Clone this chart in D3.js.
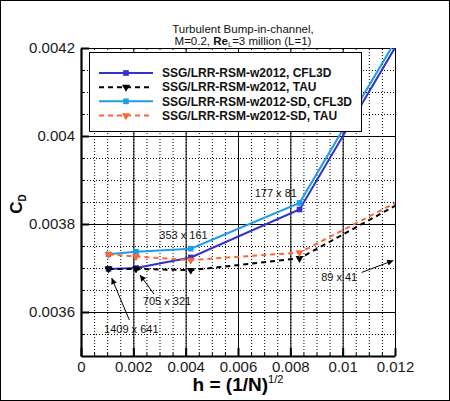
<!DOCTYPE html>
<html>
<head>
<meta charset="utf-8">
<script src="https://cdn.jsdelivr.net/npm/d3@7"></script>
<style>
  body { margin: 0; background: #fff; }
  svg { display: block; font-family: "Liberation Sans", Arial, sans-serif; }
</style>
</head>
<body>
<div id="chart"></div>
<script>
// grid spacing h = (1/N)^(1/2) for the five meshes
var hValues = [0.001052, 0.002102, 0.004195, 0.008352, 0.016555];
var gridNames = ["1409 x 641", "705 x 321", "353 x 161", "177 x 81", "89 x 41"];

// drag coefficient per series
var cdCfl3d   = [0.003698, 0.003700, 0.003724, 0.003833, 0.004660];
var cdTau     = [0.003698, 0.003698, 0.003695, 0.003722, 0.003990];
var cdSdCfl3d = [0.003731, 0.003737, 0.003744, 0.003848, 0.004672];
var cdSdTau   = [0.003731, 0.003726, 0.003718, 0.003735, 0.003988];

var seriesNames = [
  "SSG/LRR-RSM-w2012, CFL3D",
  "SSG/LRR-RSM-w2012, TAU",
  "SSG/LRR-RSM-w2012-SD, CFL3D",
  "SSG/LRR-RSM-w2012-SD, TAU"
];

var xTickValues = [0, 0.002, 0.004, 0.006, 0.008, 0.01, 0.012];
var xTickLabels = ["0", "0.002", "0.004", "0.006", "0.008", "0.01", "0.012"];
var yTickValues = [0.0036, 0.0038, 0.004, 0.0042];
var yTickLabels = ["0.0036", "0.0038", "0.004", "0.0042"];

// grid label annotations: [label index, h, Cd] and arrows [h0, cd0, h1, cd1]
var labelSpots = [
  [0, 0.001922, 0.003561],
  [1, 0.003287, 0.003625],
  [2, 0.003917, 0.003775],
  [3, 0.007445, 0.003871],
  [4, 0.009868, 0.003680]
];
var arrowSpots = [
  [0.001846, 0.003582, 0.001173, 0.003677],
  [0.002790, 0.003641, 0.002255, 0.003684],
  [0.010727, 0.003690, 0.011935, 0.003717]
];

var width = 450, height = 401,
    padL = 81, padR = 395, padT = 48, padB = 356;

var x = d3.scaleLinear().domain([0, 0.012]).range([padL, padR]);
var y = d3.scaleLinear().domain([0.0035, 0.0042]).range([padB, padT]);

var svg = d3.select("#chart").append("svg")
    .attr("width", width).attr("height", height);

svg.append("rect")
    .attr("x", 0.5).attr("y", 0.5)
    .attr("width", width - 1).attr("height", height - 1)
    .attr("fill", "#fff").attr("stroke", "#000");

// minor dotted grid
var xMinor = d3.range(0, 0.01201, 0.0005);
var yMinor = d3.range(0.0035, 0.00420001, 0.00005);

var grid = svg.append("g");
grid.append("g")
    .attr("transform", "translate(0," + padB + ")")
    .call(d3.axisBottom(x).tickValues(xMinor).tickSize(-(padB - padT)).tickFormat(""))
    .call(function (g) { g.select(".domain").remove(); })
    .selectAll("line").attr("stroke", "#000").attr("stroke-dasharray", "1,2");
grid.append("g")
    .attr("transform", "translate(" + padL + ",0)")
    .call(d3.axisLeft(y).tickValues(yMinor).tickSize(-(padR - padL)).tickFormat(""))
    .call(function (g) { g.select(".domain").remove(); })
    .selectAll("line").attr("stroke", "#000").attr("stroke-dasharray", "1,2");

// major solid grid
grid.append("g")
    .attr("transform", "translate(0," + padB + ")")
    .call(d3.axisBottom(x).tickValues(xTickValues).tickSize(-(padB - padT)).tickFormat(""))
    .call(function (g) { g.select(".domain").remove(); })
    .selectAll("line").attr("stroke", "#000");
grid.append("g")
    .attr("transform", "translate(" + padL + ",0)")
    .call(d3.axisLeft(y).tickValues(d3.range(0.0036, 0.00420001, 0.0002)).tickSize(-(padR - padL)).tickFormat(""))
    .call(function (g) { g.select(".domain").remove(); })
    .selectAll("line").attr("stroke", "#000");

// axes with inward ticks
var xAxis = svg.append("g")
    .attr("transform", "translate(0," + padB + ")")
    .call(d3.axisBottom(x).tickValues(xTickValues)
        .tickFormat(function (d, i) { return xTickLabels[i]; })
        .tickSizeInner(-8).tickSizeOuter(0).tickPadding(5));
var yAxis = svg.append("g")
    .attr("transform", "translate(" + padL + ",0)")
    .call(d3.axisLeft(y).tickValues(yTickValues)
        .tickFormat(function (d, i) { return yTickLabels[i]; })
        .tickSizeInner(-8).tickSizeOuter(0).tickPadding(6));

svg.append("g")
    .attr("transform", "translate(0," + padB + ")")
    .call(d3.axisBottom(x).tickValues(xMinor).tickSize(-3).tickFormat(""))
    .call(function (g) { g.select(".domain").remove(); })
    .selectAll("line").attr("stroke", "#000");
svg.append("g")
    .attr("transform", "translate(" + padL + ",0)")
    .call(d3.axisLeft(y).tickValues(yMinor).tickSize(-3).tickFormat(""))
    .call(function (g) { g.select(".domain").remove(); })
    .selectAll("line").attr("stroke", "#000");

[xAxis, yAxis].forEach(function (a) {
  a.select(".domain").attr("stroke", "#000").attr("stroke-width", 2.2);
  a.selectAll(".tick line").attr("stroke", "#000").attr("stroke-width", 2);
  a.selectAll(".tick text").attr("font-size", 15).attr("fill", "#1a1a1a");
});

// series
var series = [
  { name: seriesNames[0], values: cdCfl3d,   color: "#3232cc", dash: null,  marker: "square" },
  { name: seriesNames[1], values: cdTau,     color: "#000000", dash: "5,4", marker: "tri" },
  { name: seriesNames[2], values: cdSdCfl3d, color: "#1e9ee6", dash: null,  marker: "square" },
  { name: seriesNames[3], values: cdSdTau,   color: "#ff6633", dash: "5,4", marker: "tri" }
];

svg.append("clipPath").attr("id", "plotclip")
  .append("rect").attr("x", padL).attr("y", padT)
  .attr("width", padR - padL).attr("height", padB - padT);

var line = d3.line()
    .x(function (d) { return x(d[0]); })
    .y(function (d) { return y(d[1]); });

var plot = svg.append("g").attr("clip-path", "url(#plotclip)");

function markerPath(kind) {
  if (kind === "square") return d3.symbol().type(d3.symbolSquare).size(32)();
  return d3.symbol().type(d3.symbolTriangle).size(28)();
}

series.forEach(function (s) {
  var pts = hValues.map(function (h, i) { return [h, s.values[i]]; });
  plot.append("path")
      .datum(pts)
      .attr("fill", "none")
      .attr("stroke", s.color)
      .attr("stroke-width", 2)
      .attr("stroke-dasharray", s.dash)
      .attr("d", line);
  plot.selectAll(null)
      .data(pts)
      .enter().append("path")
      .attr("d", markerPath(s.marker))
      .attr("transform", function (d) {
        return "translate(" + x(d[0]) + "," + y(d[1]) + ")" + (s.marker === "tri" ? " rotate(180)" : "");
      })
      .attr("fill", s.color);
});

// annotations
svg.append("defs").append("marker")
    .attr("id", "arrowhead")
    .attr("viewBox", "0 0 10 10")
    .attr("refX", 10).attr("refY", 5)
    .attr("markerWidth", 9).attr("markerHeight", 6)
    .attr("markerUnits", "userSpaceOnUse")
    .attr("orient", "auto")
  .append("path").attr("d", "M0,0L10,5L0,10Z").attr("fill", "#000");

svg.append("g").selectAll("line")
    .data(arrowSpots)
    .enter().append("line")
    .attr("x1", function (d) { return x(d[0]); })
    .attr("y1", function (d) { return y(d[1]); })
    .attr("x2", function (d) { return x(d[2]); })
    .attr("y2", function (d) { return y(d[3]); })
    .attr("stroke", "#000").attr("stroke-width", 1)
    .attr("marker-end", "url(#arrowhead)");

svg.append("g").selectAll("text")
    .data(labelSpots)
    .enter().append("text")
    .attr("x", function (d) { return x(d[1]); })
    .attr("y", function (d) { return y(d[2]); })
    .attr("dy", "0.35em")
    .attr("text-anchor", "middle")
    .attr("font-size", 11)
    .attr("fill", "#111")
    .text(function (d) { return gridNames[d[0]]; });

// legend
var legend = svg.append("g");
legend.append("rect")
    .attr("x", 89.5).attr("y", 52.5).attr("width", 272).attr("height", 79)
    .attr("fill", "#fff").attr("stroke", "#000");
var rowY = d3.scalePoint().domain(d3.range(series.length)).range([73, 115.5]);
series.forEach(function (s, i) {
  var ly = rowY(i);
  legend.append("line")
      .attr("x1", 99).attr("x2", 153).attr("y1", ly).attr("y2", ly)
      .attr("stroke", s.color).attr("stroke-width", 2)
      .attr("stroke-dasharray", s.dash);
  legend.append("path")
      .attr("d", markerPath(s.marker))
      .attr("transform", "translate(126," + ly + ")" + (s.marker === "tri" ? " rotate(180)" : ""))
      .attr("fill", s.color);
  legend.append("text")
      .attr("x", 162).attr("y", ly).attr("dy", "0.36em")
      .attr("font-size", 12).attr("font-weight", "bold")
      .attr("fill", "#111")
      .text(s.name);
});

// title
var title = svg.append("text").attr("text-anchor", "middle").attr("font-size", 11.5).attr("fill", "#111");
title.append("tspan").attr("x", 243).attr("y", 33).text("Turbulent Bump-in-channel,");
var t2 = title.append("tspan").attr("x", 243).attr("y", 44.5);
t2.append("tspan").text("M=0.2, ");
t2.append("tspan").attr("font-weight", "bold").text("Re");
t2.append("tspan").attr("font-size", 7.5).attr("dy", 2.5).text("L");
t2.append("tspan").attr("dy", -2.5).text("=3 million (L=1)");

// axis titles
var xt = svg.append("text")
    .attr("x", 238).attr("y", 391)
    .attr("text-anchor", "middle")
    .attr("font-size", 19).attr("font-weight", "bold").attr("fill", "#000");
xt.append("tspan").text("h = (1/N)");
xt.append("tspan").attr("font-size", 11).attr("font-weight", "normal").attr("dy", -8).text("1/2");

var yt = svg.append("text")
    .attr("transform", "translate(22,204) rotate(-90)")
    .attr("text-anchor", "middle")
    .attr("font-size", 17).attr("font-weight", "bold").attr("fill", "#000");
yt.append("tspan").text("C");
yt.append("tspan").attr("font-size", 10).attr("dy", 4).text("D");
</script>
</body>
</html>
